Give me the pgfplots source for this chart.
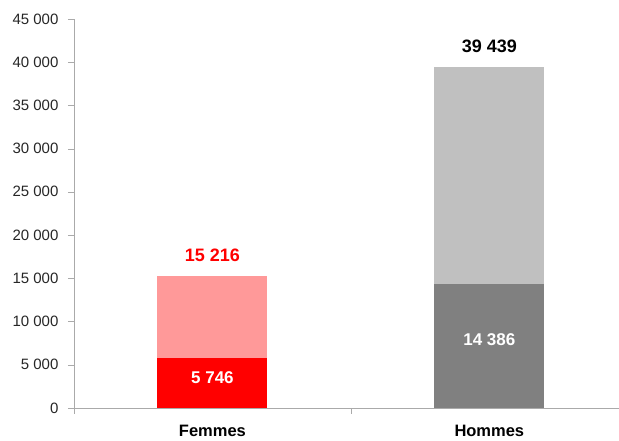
\documentclass[border=0pt]{standalone}
\usepackage{pgfplots}
\pgfplotsset{compat=1.18}
\usepackage{fontspec}
\setmainfont{Liberation Sans}
\definecolor{fred}{RGB}{255,0,0}
\definecolor{fpink}{RGB}{255,153,153}
\definecolor{hdark}{RGB}{128,128,128}
\definecolor{hlight}{RGB}{192,192,192}
\definecolor{axgray}{RGB}{170,170,170}

\begin{document}
\begin{tikzpicture}
\begin{axis}[
  scale only axis,
  width=545pt, height=389pt,
  xmin=-0.5, xmax=1.4675,
  ymin=0, ymax=45000,
  ytick={0,5000,...,45000},
  scaled y ticks=false,
  yticklabel={\pgfmathprintnumber[fixed,precision=0]{\tick}},
  xtick={-0.5,0.5},
  xticklabels={},
  extra x ticks={0,1},
  extra x tick labels={Femmes,Hommes},
  extra x tick style={major tick length=0pt},
  tick align=outside,
  major tick length=6pt,
  tick style={axgray},
  axis x line*=bottom,
  axis y line*=left,
  axis line style={axgray,-},
  /pgf/number format/.cd, 1000 sep={\ }, assume math mode=true,
  /pgfplots/.cd,
  yticklabel style={font=\fontsize{15}{17}\selectfont, text=black!85, xshift=-6pt},
  xticklabel style={font=\fontsize{16.5}{18}\selectfont\bfseries, yshift=-14pt},
  ybar, bar shift=0pt, bar width=110pt,
  clip=false,
]
% totals (drawn behind)
\addplot[fill=fpink, draw=none,
  nodes near coords, nodes near coords style={font=\fontsize{18}{20}\selectfont\bfseries, text=fred, yshift=11pt}]
  coordinates {(0,15216)};
\addplot[fill=hlight, draw=none,
  nodes near coords, nodes near coords style={font=\fontsize{18}{20}\selectfont\bfseries, text=black, yshift=11pt}]
  coordinates {(1,39439)};
% first segment
\addplot[fill=fred, draw=none,
  visualization depends on=rawy\as\rawy,
  nodes near coords, nodes near coords align={center},
  nodes near coords style={font=\fontsize{17}{19}\selectfont\bfseries, text=white,
    shift={(axis direction cs:0,-0.5*\rawy)}, yshift=5pt}]
  coordinates {(0,5746)};
\addplot[fill=hdark, draw=none,
  visualization depends on=rawy\as\rawy,
  nodes near coords, nodes near coords align={center},
  nodes near coords style={font=\fontsize{17}{19}\selectfont\bfseries, text=white,
    shift={(axis direction cs:0,-0.5*\rawy)}, yshift=6pt}]
  coordinates {(1,14386)};
\end{axis}
\useasboundingbox ([xshift=-74pt,yshift=-28pt]current axis.south west) rectangle ([yshift=19pt]current axis.north east);
\end{tikzpicture}
\end{document}
